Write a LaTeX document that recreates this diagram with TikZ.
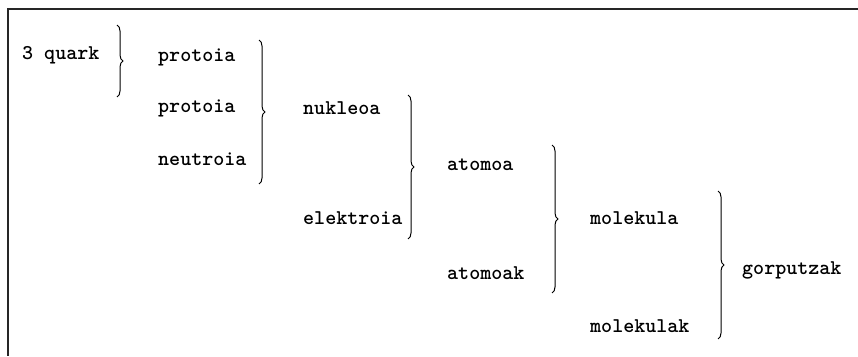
\documentclass[tikz,border=0pt]{standalone}
\usetikzlibrary{decorations.pathreplacing}
\tikzset{
  lbl/.style={anchor=west, inner sep=0pt, font=\ttfamily\bfseries\fontsize{21}{21}\selectfont},
  brc/.style={draw, line width=1pt, decorate, decoration={brace, amplitude=6pt, aspect=0.5}},
  frame/.style={draw=black!85, line width=2pt}
}
\begin{document}
\begin{tikzpicture}[x=1pt,y=-1pt]
\useasboundingbox (0,0) rectangle (858,356);
\coordinate (tl) at (8,9);
\coordinate (tr) at (858,9);
\coordinate (bl) at (8,356);
\draw[frame] (tr) -- (tl) -- (bl);
% texts
\node[lbl] (q)  at (22,55)  {3 quark};
\node[lbl] (p1) at (158,57) {protoia};
\node[lbl] (p2) at (158,108) {protoia};
\node[lbl] (n)  at (158,159) {neutroia};
\node[lbl] (nu) at (303,108) {nukleoa};
\node[lbl] (el) at (303,218) {elektroia};
\node[lbl] (a1) at (447,165) {atomoa};
\node[lbl] (a2) at (447,273) {atomoak};
\node[lbl] (m1) at (590,218) {molekula};
\node[lbl] (m2) at (590,326) {molekulak};
\node[lbl] (g)  at (742,270) {gorputzak};
% braces
\coordinate (b1t) at (117,25);  \coordinate (b1b) at (117,97);
\coordinate (b2t) at (259,40);  \coordinate (b2b) at (259,184);
\coordinate (b3t) at (408,95);  \coordinate (b3b) at (408,239);
\coordinate (b4t) at (552,145); \coordinate (b4b) at (552,293);
\coordinate (b5t) at (718,191); \coordinate (b5b) at (718,339);
\draw[brc] (b1t) -- (b1b);
\draw[brc] (b2t) -- (b2b);
\draw[brc] (b3t) -- (b3b);
\draw[brc] (b4t) -- (b4b);
\draw[brc] (b5t) -- (b5b);
\end{tikzpicture}
\end{document}
